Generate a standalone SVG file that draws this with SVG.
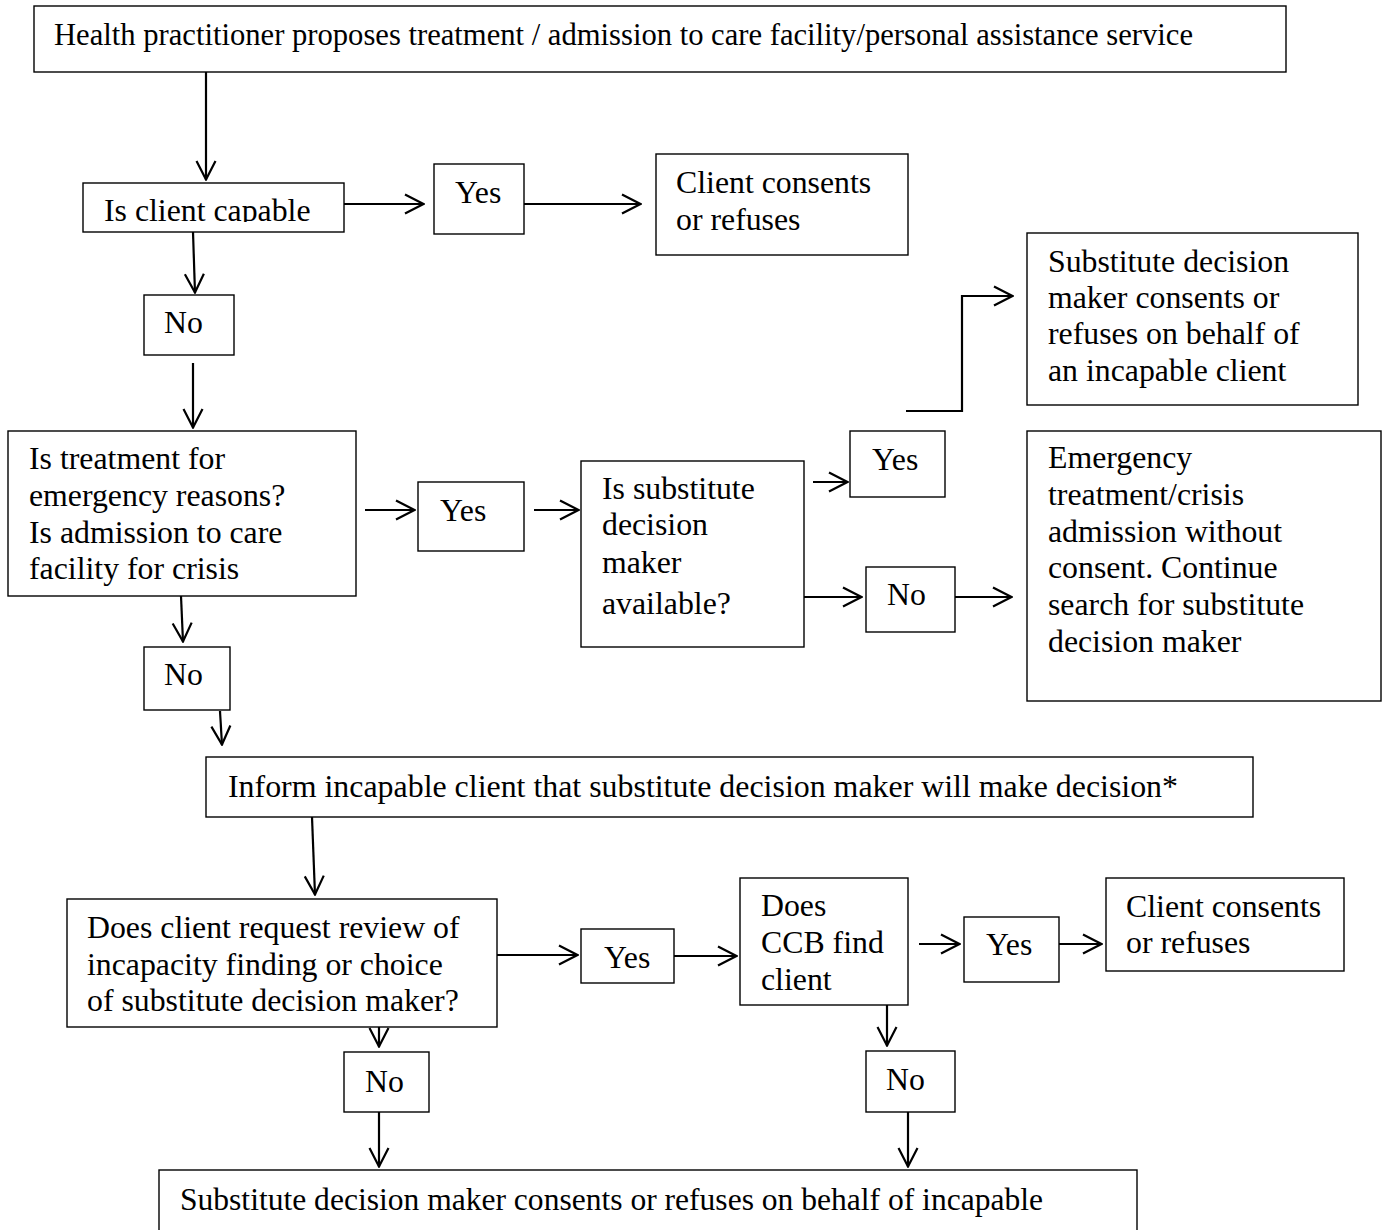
<svg xmlns="http://www.w3.org/2000/svg" width="1383" height="1230" viewBox="0 0 1383 1230">
<style>
.b{fill:#fff;stroke:#000;stroke-width:1.4}
.t{font-family:"Liberation Serif","Times New Roman",serif;font-size:31.8px;fill:#000}
.c{fill:none;stroke:#000;stroke-width:2.2;marker-end:url(#ah)}
</style>
<defs>
<marker id="ah" viewBox="0 0 22 22" refX="21" refY="11" markerWidth="22" markerHeight="22" markerUnits="userSpaceOnUse" orient="auto">
<path d="M2,1.5 L20.5,11 L2,20.5" fill="none" stroke="#000" stroke-width="2.2"/>
</marker>
<clipPath id="clipCap"><rect x="83" y="183" width="261" height="39"/></clipPath>
</defs>
<rect width="1383" height="1230" fill="#fff"/>
<g id="n-top"><rect class="b" x="34" y="6" width="1252" height="66"/><text class="t" x="54" y="45" textLength="1139" lengthAdjust="spacingAndGlyphs">Health practitioner proposes treatment / admission to care facility/personal assistance service</text></g>
<g id="n-capable"><rect class="b" x="83" y="183" width="261" height="49"/><text class="t" x="104" y="221" clip-path="url(#clipCap)">Is client capable</text></g>
<g id="n-yes1"><rect class="b" x="434" y="164" width="90" height="70"/><text class="t" x="455" y="203">Yes</text></g>
<g id="n-client1"><rect class="b" x="656" y="154" width="252" height="101"/><text class="t" x="676" y="193">Client consents</text><text class="t" x="676" y="230">or refuses</text></g>
<g id="n-no1"><rect class="b" x="144" y="295" width="90" height="60"/><text class="t" x="164" y="333">No</text></g>
<g id="n-emerg"><rect class="b" x="8" y="431" width="348" height="165"/><text class="t" x="29" y="469">Is treatment for</text><text class="t" x="29" y="506">emergency reasons?</text><text class="t" x="29" y="543">Is admission to care</text><text class="t" x="29" y="579">facility for crisis</text></g>
<g id="n-yes2"><rect class="b" x="418" y="482" width="106" height="69"/><text class="t" x="440" y="521">Yes</text></g>
<g id="n-subst"><rect class="b" x="581" y="461" width="223" height="186"/><text class="t" x="602" y="499">Is substitute</text><text class="t" x="602" y="535">decision</text><text class="t" x="602" y="573">maker</text><text class="t" x="602" y="614">available?</text></g>
<g id="n-yes3"><rect class="b" x="850" y="431" width="95" height="66"/><text class="t" x="872" y="470">Yes</text></g>
<g id="n-no2"><rect class="b" x="866" y="567" width="89" height="65"/><text class="t" x="887" y="605">No</text></g>
<g id="n-sdm"><rect class="b" x="1027" y="233" width="331" height="172"/><text class="t" x="1048" y="272">Substitute decision</text><text class="t" x="1048" y="308">maker consents or</text><text class="t" x="1048" y="344">refuses on behalf of</text><text class="t" x="1048" y="381">an incapable client</text></g>
<g id="n-emres"><rect class="b" x="1027" y="431" width="354" height="270"/><text class="t" x="1048" y="468">Emergency</text><text class="t" x="1048" y="505">treatment/crisis</text><text class="t" x="1048" y="542">admission without</text><text class="t" x="1048" y="578">consent. Continue</text><text class="t" x="1048" y="615">search for substitute</text><text class="t" x="1048" y="652">decision maker</text></g>
<g id="n-no3"><rect class="b" x="144" y="647" width="86" height="63"/><text class="t" x="164" y="685">No</text></g>
<g id="n-inform"><rect class="b" x="206" y="757" width="1047" height="60"/><text class="t" x="228" y="797" textLength="950" lengthAdjust="spacingAndGlyphs">Inform incapable client that substitute decision maker will make decision*</text></g>
<g id="n-does"><rect class="b" x="67" y="899" width="430" height="128"/><text class="t" x="87" y="938">Does client request review of</text><text class="t" x="87" y="975">incapacity finding or choice</text><text class="t" x="87" y="1011">of substitute decision maker?</text></g>
<g id="n-yes4"><rect class="b" x="581" y="929" width="93" height="54"/><text class="t" x="604" y="968">Yes</text></g>
<g id="n-ccb"><rect class="b" x="740" y="878" width="168" height="127"/><text class="t" x="761" y="916">Does</text><text class="t" x="761" y="953">CCB find</text><text class="t" x="761" y="990">client</text></g>
<g id="n-yes5"><rect class="b" x="964" y="917" width="95" height="65"/><text class="t" x="986" y="955">Yes</text></g>
<g id="n-client2"><rect class="b" x="1106" y="878" width="238" height="93"/><text class="t" x="1126" y="917">Client consents</text><text class="t" x="1126" y="953">or refuses</text></g>
<g id="n-no4"><rect class="b" x="344" y="1052" width="85" height="60"/><text class="t" x="365" y="1092">No</text></g>
<g id="n-no5"><rect class="b" x="866" y="1051" width="89" height="61"/><text class="t" x="886" y="1090">No</text></g>
<g id="n-bottom"><rect class="b" x="159" y="1170" width="978" height="90"/><text class="t" x="180" y="1210" textLength="863" lengthAdjust="spacingAndGlyphs">Substitute decision maker consents or refuses on behalf of incapable</text></g>
<g id="connectors">
<path class="c" d="M206,72 L206,180"/>
<path class="c" d="M344,204 L424,204"/>
<path class="c" d="M524,204 L641,204"/>
<path class="c" d="M193,232 L195,293"/>
<path class="c" d="M193,363 L193,428"/>
<path class="c" d="M365,510 L415,510"/>
<path class="c" d="M534,510 L579,510"/>
<path class="c" d="M181,596 L183,642"/>
<path class="c" d="M813,482 L848,482"/>
<path class="c" d="M906,411 L962,411 L962,296 L1013,296"/>
<path class="c" d="M804,597 L862,597"/>
<path class="c" d="M955,597 L1012,597"/>
<path class="c" d="M220,711 L222,745"/>
<path class="c" d="M312,817 L315,895"/>
<path class="c" d="M497,955 L578,955"/>
<path class="c" d="M674,956 L737,956"/>
<path class="c" d="M919,944 L960,944"/>
<path class="c" d="M1059,944 L1102,944"/>
<path class="c" d="M379,1027 L379,1047"/>
<path class="c" d="M379,1112 L379,1167"/>
<path class="c" d="M887,1005 L887,1046"/>
<path class="c" d="M908,1112 L908,1167"/>
</g>
</svg>
